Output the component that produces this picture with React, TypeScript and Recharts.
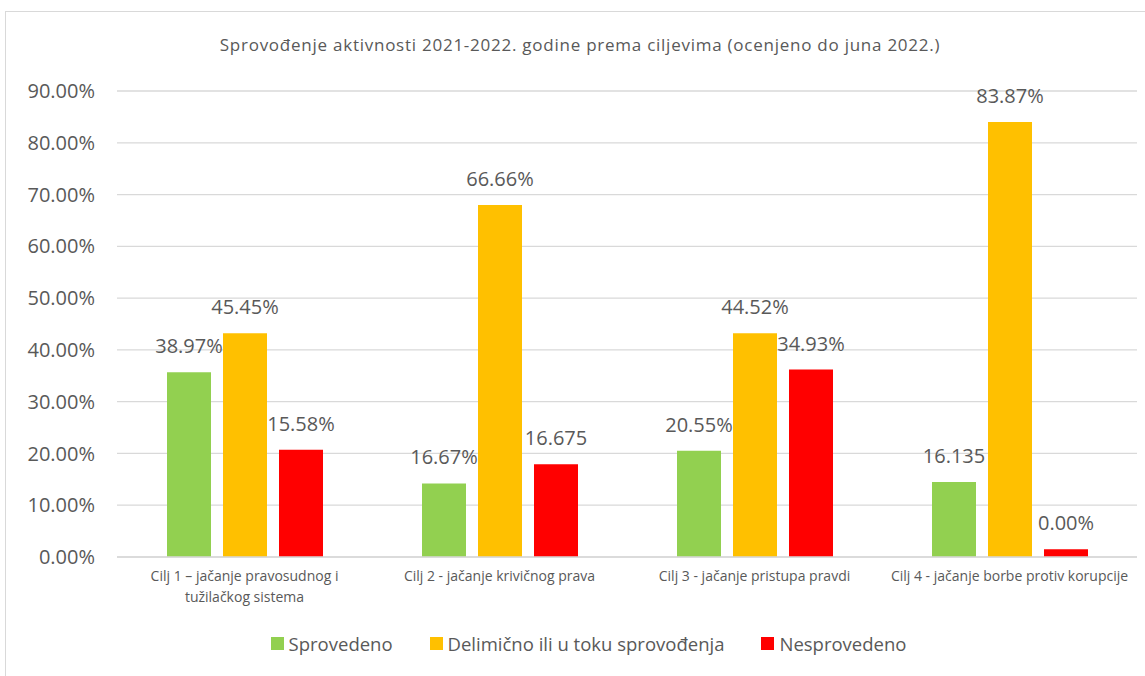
import React from 'react';
import { BarChart, Bar, XAxis, YAxis, CartesianGrid, Legend, LabelList, Text } from 'recharts';

const categories = [
  'Cilj 1 – jačanje pravosudnog i\ntužilačkog sistema',
  'Cilj 2 - jačanje krivičnog prava',
  'Cilj 3 - jačanje pristupa pravdi',
  'Cilj 4 - jačanje borbe protiv korupcije',
];

const seriesNames = ['Sprovedeno', 'Delimično ili u toku sprovođenja', 'Nesprovedeno'];
const seriesColors = ['#92D050', '#FFC000', '#FF0000'];

// bar heights as drawn (percent)
const sprovedeno = [35.7, 14.2, 20.5, 14.5];
const delimicno = [43.2, 68.0, 43.2, 84.0];
const nesprovedeno = [20.7, 17.9, 36.2, 1.5];

// data labels as printed on the chart
const sprovedenoLabels = ['38.97%', '16.67%', '20.55%', '16.135'];
const delimicnoLabels = ['45.45%', '66.66%', '44.52%', '83.87%'];
const nesprovedenoLabels = ['15.58%', '16.675', '34.93%', '0.00%'];

const yTicks = [0, 10, 20, 30, 40, 50, 60, 70, 80, 90];

const title = 'Sprovođenje aktivnosti 2021-2022. godine prema ciljevima (ocenjeno do juna 2022.)';

const FONT = '"Open Sans", "Noto Sans", sans-serif';
const TEXT = '#595959';

const data = categories.map((name, i) => ({
  name,
  [seriesNames[0]]: sprovedeno[i],
  [seriesNames[1]]: delimicno[i],
  [seriesNames[2]]: nesprovedeno[i],
  l1: sprovedenoLabels[i],
  l2: delimicnoLabels[i],
  l3: nesprovedenoLabels[i],
}));

const CategoryTick = (props: any) => {
  const { x, y, payload } = props;
  const lines = String(payload.value).split('\n');
  return (
    <g>
      {lines.map((line: string, i: number) => (
        <Text key={i} x={x} y={y + 11 + i * 21} textAnchor="middle" verticalAnchor="middle"
          fill={TEXT} fontSize={14} fontFamily={FONT}>
          {line}
        </Text>
      ))}
    </g>
  );
};

const LegendContent = () => (
  <div style={{ display: 'flex', justifyContent: 'center', alignItems: 'center', fontSize: 18.5, fontFamily: FONT, color: TEXT, paddingLeft: 40 }}>
    {seriesNames.map((n, i) => (
      <div key={n} style={{ display: 'flex', alignItems: 'center', marginRight: i < 2 ? 37 : 0 }}>
        <span style={{ display: 'inline-block', width: 13, height: 13, background: seriesColors[i], marginRight: 5 }} />
        <span>{n}</span>
      </div>
    ))}
  </div>
);

export default function App() {
  const labelStyle = { fill: TEXT, fontSize: 20, fontFamily: FONT };
  const labelKeys = ['l1', 'l2', 'l3'];
  return (
    <div style={{ position: 'fixed', left: 0, top: 0, width: 1145, height: 676, background: '#fff', fontFamily: FONT, overflow: 'hidden' }}>
      <div style={{ position: 'absolute', left: 5, top: 11, width: 1160, height: 700, border: '1px solid #d9d9d9' }} />
      <div style={{ position: 'absolute', left: 0, width: 1160, top: 32, textAlign: 'center', fontSize: 17, letterSpacing: 0.75, color: TEXT, lineHeight: '26px' }}>
        {title}
      </div>
      <BarChart width={1145} height={676} data={data}
        margin={{ top: 91, right: 8, left: 0, bottom: 0 }}
        barGap={12} barCategoryGap={50}
        style={{ position: 'absolute', left: 0, top: 0 }}>
        <CartesianGrid vertical={false} stroke="#d9d9d9" strokeWidth={1.3} />
        <XAxis dataKey="name" tick={<CategoryTick />} tickLine={false}
          axisLine={{ stroke: '#d9d9d9', strokeWidth: 1.3 }} interval={0} height={74} />
        <YAxis width={117} domain={[0, 90]} ticks={yTicks} axisLine={false} tickLine={false}
          tickFormatter={(v: number) => `${v.toFixed(2)}%`}
          tick={{ fill: TEXT, fontSize: 20, fontFamily: FONT, dx: -14 }} />
        <Legend verticalAlign="bottom" content={<LegendContent />}
          wrapperStyle={{ paddingBottom: 20 }} />
        {seriesNames.map((n, i) => (
          <Bar key={n} dataKey={n} fill={seriesColors[i]} barSize={44} isAnimationActive={false}>
            <LabelList dataKey={labelKeys[i]} position="top" offset={19} style={labelStyle} />
          </Bar>
        ))}
      </BarChart>
    </div>
  );
}
